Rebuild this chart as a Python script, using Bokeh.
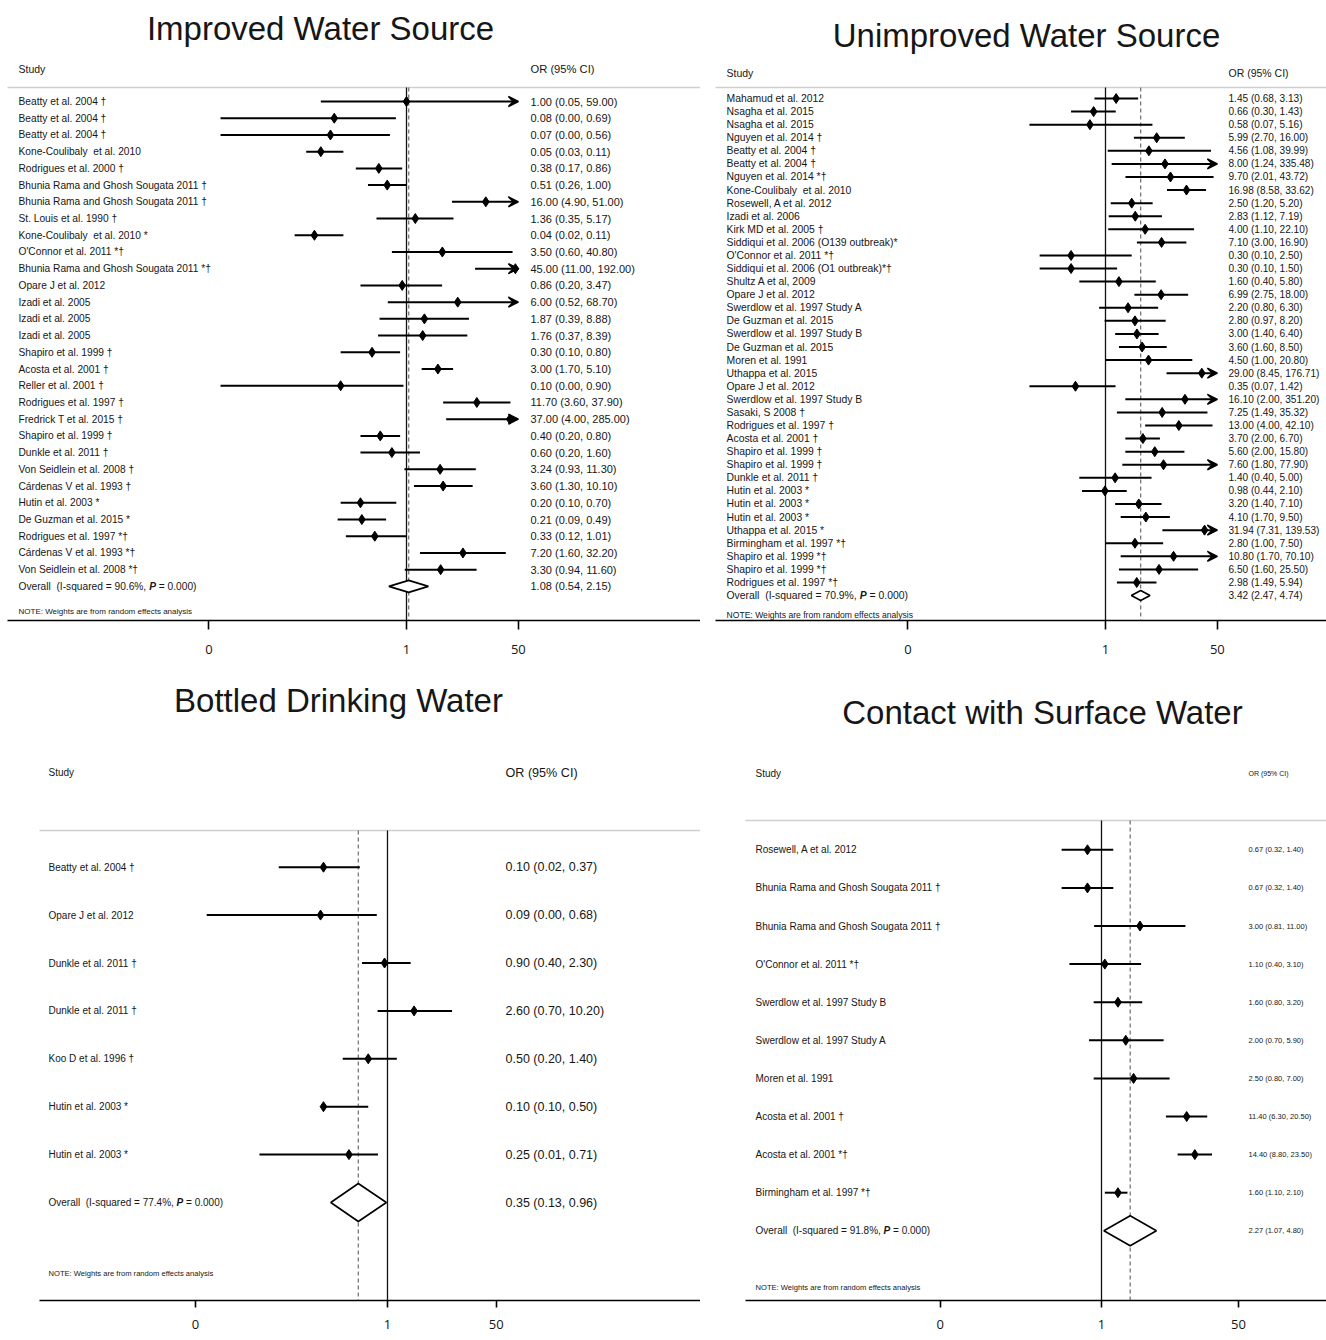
import math
from bokeh.plotting import figure
from bokeh.models import (Range1d, LinearScale, FixedTicker, CustomJSTickFormatter,
                          ColumnDataSource, Arrow, VeeHead)
from bokeh.layouts import column, row
from bokeh.embed import file_html
from bokeh.resources import INLINE
from bokeh.core.properties import value

# ---------------- data ----------------
titles = ["Improved Water Source", "Unimproved Water Source",
          "Bottled Drinking Water", "Contact with Surface Water"]

studies1 = ["Beatty et al. 2004 †", "Beatty et al. 2004 †", "Beatty et al. 2004 †",
            "Kone-Coulibaly\u00a0 et al. 2010", "Rodrigues et al. 2000 †",
            "Bhunia Rama and Ghosh Sougata 2011 †", "Bhunia Rama and Ghosh Sougata 2011 †",
            "St. Louis et al. 1990 †", "Kone-Coulibaly\u00a0 et al. 2010 *", "O'Connor et al. 2011 *†",
            "Bhunia Rama and Ghosh Sougata 2011 *†", "Opare J et al. 2012",
            "Izadi et al. 2005", "Izadi et al. 2005", "Izadi et al. 2005",
            "Shapiro et al. 1999 †", "Acosta et al. 2001 †", "Reller et al. 2001 †",
            "Rodrigues et al. 1997 †", "Fredrick T et al. 2015 †", "Shapiro et al. 1999 †",
            "Dunkle et al. 2011 †", "Von Seidlein et al. 2008 †", "Cárdenas V et al. 1993 †",
            "Hutin et al. 2003 *", "De Guzman et al. 2015 *", "Rodrigues et al. 1997 *†",
            "Cárdenas V et al. 1993 *†", "Von Seidlein et al. 2008 *†"]
or1 = [1.00, 0.08, 0.07, 0.05, 0.38, 0.51, 16.00, 1.36, 0.04, 3.50, 45.00, 0.86, 6.00, 1.87,
       1.76, 0.30, 3.00, 0.10, 11.70, 37.00, 0.40, 0.60, 3.24, 3.60, 0.20, 0.21, 0.33, 7.20, 3.30]
lo1 = [0.05, 0.0015, 0.0015, 0.03, 0.17, 0.26, 4.90, 0.35, 0.02, 0.60, 11.00, 0.20, 0.52, 0.39,
       0.37, 0.10, 1.70, 0.0015, 3.60, 4.00, 0.20, 0.20, 0.93, 1.30, 0.10, 0.09, 0.12, 1.60, 0.94]
hi1 = [59.00, 0.69, 0.56, 0.11, 0.86, 1.00, 51.00, 5.17, 0.11, 40.80, 192.00, 3.47, 68.70, 8.88,
       8.39, 0.80, 5.10, 0.90, 37.90, 285.00, 0.80, 1.60, 11.30, 10.10, 0.70, 0.49, 1.01, 32.20, 11.60]
overall1 = [1.08, 0.54, 2.15]
isq1 = "90.6%"

studies2 = ["Mahamud et al. 2012", "Nsagha et al. 2015", "Nsagha et al. 2015",
            "Nguyen et al. 2014 †", "Beatty et al. 2004 †", "Beatty et al. 2004 †",
            "Nguyen et al. 2014 *†", "Kone-Coulibaly\u00a0 et al. 2010", "Rosewell, A et al. 2012",
            "Izadi et al. 2006", "Kirk MD et al. 2005 †", "Siddiqui et al. 2006 (O139 outbreak)*",
            "O'Connor et al. 2011 *†", "Siddiqui et al. 2006 (O1 outbreak)*†", "Shultz A et al, 2009",
            "Opare J et al. 2012", "Swerdlow et al. 1997 Study A", "De Guzman et al. 2015",
            "Swerdlow et al. 1997 Study B", "De Guzman et al. 2015", "Moren et al. 1991",
            "Uthappa et al. 2015", "Opare J et al. 2012", "Swerdlow et al. 1997 Study B",
            "Sasaki, S 2008 †", "Rodrigues et al. 1997 †", "Acosta et al. 2001 †",
            "Shapiro et al. 1999 †", "Shapiro et al. 1999 †", "Dunkle et al. 2011 †",
            "Hutin et al. 2003 *", "Hutin et al. 2003 *", "Hutin et al. 2003 *",
            "Uthappa et al. 2015 *", "Birmingham et al. 1997 *†", "Shapiro et al. 1999 *†",
            "Shapiro et al. 1999 *†", "Rodrigues et al. 1997 *†"]
or2 = [1.45, 0.66, 0.58, 5.99, 4.56, 8.00, 9.70, 16.98, 2.50, 2.83, 4.00, 7.10, 0.30, 0.30, 1.60,
       6.99, 2.20, 2.80, 3.00, 3.60, 4.50, 29.00, 0.35, 16.10, 7.25, 13.00, 3.70, 5.60, 7.60, 1.40,
       0.98, 3.20, 4.10, 31.94, 2.80, 10.80, 6.50, 2.98]
lo2 = [0.68, 0.30, 0.07, 2.70, 1.08, 1.24, 2.01, 8.58, 1.20, 1.12, 1.10, 3.00, 0.10, 0.10, 0.40,
       2.75, 0.80, 0.97, 1.40, 1.60, 1.00, 8.45, 0.07, 2.00, 1.49, 4.00, 2.00, 2.00, 1.80, 0.40,
       0.44, 1.40, 1.70, 7.31, 1.00, 1.70, 1.60, 1.49]
hi2 = [3.13, 1.43, 5.16, 16.00, 39.99, 335.48, 43.72, 33.62, 5.20, 7.19, 22.10, 16.90, 2.50, 1.50,
       5.80, 18.00, 6.30, 8.20, 6.40, 8.50, 20.80, 176.71, 1.42, 351.20, 35.32, 42.10, 6.70, 15.80,
       77.90, 5.00, 2.10, 7.10, 9.50, 139.53, 7.50, 70.10, 25.50, 5.94]
overall2 = [3.42, 2.47, 4.74]
isq2 = "70.9%"

studies3 = ["Beatty et al. 2004 †", "Opare J et al. 2012", "Dunkle et al. 2011 †",
            "Dunkle et al. 2011 †", "Koo D et al. 1996 †", "Hutin et al. 2003 *", "Hutin et al. 2003 *"]
or3 = [0.10, 0.09, 0.90, 2.60, 0.50, 0.10, 0.25]
lo3 = [0.02, 0.0015, 0.40, 0.70, 0.20, 0.10, 0.01]
hi3 = [0.37, 0.68, 2.30, 10.20, 1.40, 0.50, 0.71]
overall3 = [0.35, 0.13, 0.96]
isq3 = "77.4%"

studies4 = ["Rosewell, A et al. 2012", "Bhunia Rama and Ghosh Sougata 2011 †",
            "Bhunia Rama and Ghosh Sougata 2011 †", "O'Connor et al. 2011 *†",
            "Swerdlow et al. 1997 Study B", "Swerdlow et al. 1997 Study A", "Moren et al. 1991",
            "Acosta et al. 2001 †", "Acosta et al. 2001 *†", "Birmingham et al. 1997 *†"]
or4 = [0.67, 0.67, 3.00, 1.10, 1.60, 2.00, 2.50, 11.40, 14.40, 1.60]
lo4 = [0.32, 0.32, 0.81, 0.40, 0.80, 0.70, 0.80, 6.30, 8.80, 1.10]
hi4 = [1.40, 1.40, 11.00, 3.10, 3.20, 5.90, 7.00, 20.50, 23.50, 2.10]
overall4 = [2.27, 1.07, 4.80]
isq4 = "91.8%"

ticks_a = [0.001, 1, 50]
ticks_b = [0.01, 1, 50]
axis_cap = 50
p_text = "0.000"

FONT = "Liberation Sans"
INK = "#161616"
NB = "\u00a0"

# Arial/Liberation Sans advance widths (1/1000 em) for measuring the Overall label
_W = {" ": 278, NB: 278, "(": 333, ")": 333, "-": 333, ".": 278, ",": 278, "=": 584, "%": 889,
      "O": 778, "v": 500, "e": 556, "r": 333, "a": 556, "l": 222, "I": 278, "s": 500,
      "q": 556, "u": 556, "d": 556, "P": 667}


def text_width(s, size):
    return sum(_W.get(ch, 556) for ch in s) * size / 1000.0


def fmt(e, l, h):
    return f"{e:.2f} ({l:.2f}, {h:.2f})"


def forest(c, title, studies, ors, los, his, overall, isq, ticks):
    W, H, B = c["W"], c["H"], c["B"]
    fh = H - B
    x1, k = c["x1"], c["k"]

    def px(v):
        return math.exp((v - x1) / k)

    p = figure(width=W, height=H, x_axis_type="log", x_range=Range1d(px(0), px(W)),
               y_range=Range1d(fh, 0), output_backend="svg", toolbar_location=None,
               y_axis_location=None, title=None,
               min_border_left=0, min_border_right=0, min_border_top=0, min_border_bottom=B,
               outline_line_color=None, background_fill_color="white", border_fill_color="white")
    p.extra_x_ranges = {"px": Range1d(0, W)}
    p.extra_x_scales = {"px": LinearScale()}
    p.grid.visible = False

    n = len(studies)
    ys = [c["row0"] + i * c["step"] for i in range(n)]
    yo = c["row0"] + n * c["step"]

    # title & headers
    p.text(x=[c["tx"]], y=[c["ty"]], text=[title], x_range_name="px",
           text_font=value(FONT), text_font_size="33px", text_align="center",
           text_baseline="middle", text_color=INK)
    p.text(x=[c["sx"]], y=[c["hy"]], text=["Study"], x_range_name="px",
           text_font=value(FONT), text_font_size=c["fs_hs"], text_baseline="middle", text_color=INK)
    p.text(x=[c["ox"]], y=[c["hy"]], text=["OR (95% CI)"], x_range_name="px",
           text_font=value(FONT), text_font_size=c["fs_ho"], text_baseline="middle", text_color=INK)
    p.segment(x0=[c["gx0"]], x1=[W], y0=[c["gy"]], y1=[c["gy"]], x_range_name="px",
              line_color="#cfcfcf", line_width=1.6)

    # reference lines
    p.segment(x0=[1], x1=[1], y0=[c["gy"]], y1=[fh], line_color="#111111", line_width=1.3)
    p.segment(x0=[overall[0]], x1=[overall[0]], y0=[c["gy"]], y1=[fh], line_color="#777777",
              line_width=1.3, line_dash="4 3")

    # CIs
    full = dict(y=[], lo=[], hi=[])
    trunc = dict(y=[], lo=[], hi=[])
    for y, l, h in zip(ys, los, his):
        d = trunc if h > axis_cap else full
        d["y"].append(y)
        d["lo"].append(l)
        d["hi"].append(min(h, axis_cap))
    p.segment(x0="lo", x1="hi", y0="y", y1="y", source=ColumnDataSource(full),
              line_color="black", line_width=2)
    if trunc["y"]:
        p.add_layout(Arrow(end=VeeHead(size=10, fill_color="black", line_color="black", line_width=1.5),
                           x_start="lo", x_end="hi", y_start="y", y_end="y",
                           source=ColumnDataSource(trunc), line_color="black", line_width=2))
    p.scatter(x=ors, y=ys, marker="diamond", size=10, color="black")

    # overall diamond
    e, l, h = overall
    dh = c["dh"]
    p.patch(x=[l, e, h, e], y=[yo, yo - dh, yo, yo + dh], fill_color="white",
            line_color="black", line_width=1.6)

    # text columns
    src = ColumnDataSource(dict(y=ys, lab=studies,
                                ci=[fmt(*t) for t in zip(ors, los, his)]))
    p.text(x=c["sx"], y="y", text="lab", source=src, x_range_name="px", text_font=value(FONT),
           text_font_size=c["fs_lab"], text_baseline="middle", text_color=INK)
    p.text(x=c["ox"], y="y", text="ci", source=src, x_range_name="px", text_font=value(FONT),
           text_font_size=c["fs_ci"], text_baseline="middle", text_color=INK)

    # overall row: label with italic P
    fs = float(c["fs_lab"].replace("px", ""))
    part1 = f"Overall{NB}{NB}(I-squared = {isq},"
    part3 = f"= {p_text})"
    xp = c["sx"] + text_width(part1 + " ", fs)
    xr = xp + text_width("P ", fs)
    p.text(x=[c["sx"]], y=[yo], text=[part1], x_range_name="px", text_font=value(FONT),
           text_font_size=c["fs_lab"], text_baseline="middle", text_color=INK)
    p.text(x=[xp], y=[yo], text=["P"], x_range_name="px", text_font=value(FONT),
           text_font_size=c["fs_lab"], text_font_style="bold italic", text_baseline="middle",
           text_color=INK)
    p.text(x=[xr], y=[yo], text=[part3], x_range_name="px", text_font=value(FONT),
           text_font_size=c["fs_lab"], text_baseline="middle", text_color=INK)
    p.text(x=[c["ox"]], y=[yo], text=[fmt(e, l, h)], x_range_name="px", text_font=value(FONT),
           text_font_size=c["fs_ci"], text_baseline="middle", text_color=INK)

    p.text(x=[c["sx"]], y=[c["ny"]], text=["NOTE: Weights are from random effects analysis"],
           x_range_name="px", text_font=value(FONT), text_font_size=c["fs_note"],
           text_baseline="middle", text_color=INK)

    ax = p.xaxis[0]
    ax.ticker = FixedTicker(ticks=ticks, minor_ticks=[])
    ax.formatter = CustomJSTickFormatter(code="return tick < 0.5 ? '0' : String(Math.round(tick));")
    ax.bounds = (px(c["gx0"]), px(W))
    ax.axis_line_color = "black"
    ax.axis_line_width = 1.6
    ax.major_tick_line_color = "black"
    ax.major_tick_line_width = 1.6
    ax.major_tick_in = 0
    ax.major_tick_out = c["tick"]
    ax.minor_tick_in = 0
    ax.minor_tick_out = 0
    ax.major_label_standoff = c["standoff"]
    ax.major_label_text_font = "Open Sans"
    ax.major_label_text_font_size = "13px"
    ax.major_label_text_color = INK
    return p


cfg1 = dict(W=700, H=668, B=48, x1=406, k=28.6, tx=320, ty=28, hy=68, sx=18, ox=530,
            gx0=7, gy=87, row0=101, step=16.72, ny=611, dh=6, tick=9, standoff=15,
            fs_hs="10.5px", fs_ho="11.2px", fs_lab="10.2px", fs_ci="11px", fs_note="8px")
cfg2 = dict(W=626, H=668, B=48, x1=405, k=28.6, tx=326, ty=35, hy=72, sx=26, ox=528,
            gx0=15, gy=87, row0=98, step=13.08, ny=614, dh=5, tick=9, standoff=15,
            fs_hs="10.5px", fs_ho="10.5px", fs_lab="10.4px", fs_ci="10.1px", fs_note="8.6px")
cfg3 = dict(W=700, H=668, B=36, x1=387, k=27.8, tx=338, ty=32, hy=104, sx=48, ox=505,
            gx0=39, gy=162, row0=198.7, step=47.9, ny=605, dh=19, tick=7, standoff=12,
            fs_hs="10px", fs_ho="12.6px", fs_lab="10px", fs_ci="12.5px", fs_note="7.6px")
cfg4 = dict(W=626, H=668, B=36, x1=401, k=35.0, tx=342, ty=44, hy=105, sx=55, ox=548,
            gx0=45, gy=152, row0=181.3, step=38.1, ny=619, dh=15, tick=7, standoff=12,
            fs_hs="10px", fs_ho="7px", fs_lab="10px", fs_ci="7.5px", fs_note="7.6px")

p1 = forest(cfg1, titles[0], studies1, or1, lo1, hi1, overall1, isq1, ticks_a)
p2 = forest(cfg2, titles[1], studies2, or2, lo2, hi2, overall2, isq2, ticks_a)
p3 = forest(cfg3, titles[2], studies3, or3, lo3, hi3, overall3, isq3, ticks_a)
p4 = forest(cfg4, titles[3], studies4, or4, lo4, hi4, overall4, isq4, ticks_b)

layout = column(row(p1, p2), row(p3, p4))
open("out.html", "w").write(file_html(layout, INLINE))
